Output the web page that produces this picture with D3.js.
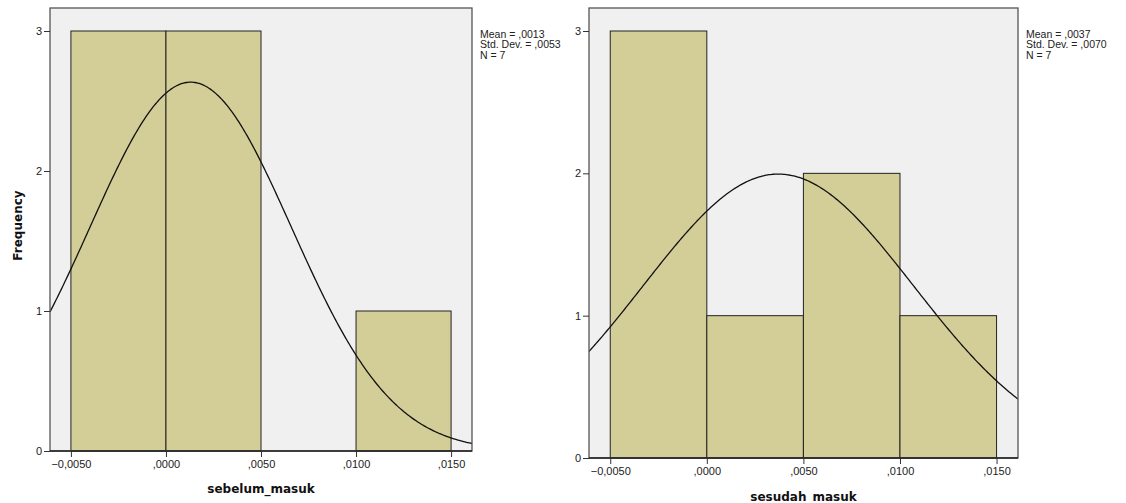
<!DOCTYPE html>
<html>
<head>
<meta charset="utf-8">
<script src="https://cdn.jsdelivr.net/npm/d3@7/dist/d3.min.js"></script>
<style>
  html, body { margin: 0; padding: 0; background: #fff; }
  svg { display: block; }
</style>
</head>
<body>
<svg id="chart" width="1126" height="503"></svg>
<script>
// Histogram bins (lower edges), bin width and counts for each variable
const binEdges = [-0.005, 0.0, 0.005, 0.01];
const binWidth = 0.005;
const countsSebelum = [3, 3, 0, 1];
const countsSesudah = [3, 1, 2, 1];
const xTicks = [-0.005, 0.0, 0.005, 0.01, 0.015];
const yTicksSebelum = [0, 1, 2, 3];
const yTicksSesudah = [0, 1, 2, 3];
// Summary statistics shown beside each panel
const statsSebelum = { mean: 0.0013, sd: 0.0053, n: 7 };
const statsSesudah = { mean: 0.0037, sd: 0.0070, n: 7 };

const svg = d3.select("#chart");
const fmtTick = v => {
  const s = d3.format(".4f")(v).replace(".", ",");
  return s.replace(/^(-?)0,/, "$1,");
};

function panel(opts) {
  const { left, right, top, bottom, xDomain, yMax, counts, stats, yTicks, title, showYTitle, titleY } = opts;
  const x = d3.scaleLinear().domain(xDomain).range([left, right]);
  const y = d3.scaleLinear().domain([0, yMax]).range([bottom, top]);
  const g = svg.append("g");
  const clipId = "clip" + Math.round(left);
  svg.append("clipPath").attr("id", clipId)
    .append("rect").attr("x", left).attr("y", opts.frameTop).attr("width", right - left).attr("height", bottom - opts.frameTop);

  // plot background
  g.append("rect").attr("x", left).attr("y", opts.frameTop)
    .attr("width", right - left).attr("height", bottom - opts.frameTop)
    .attr("fill", "#f0f0f0");

  // bars
  g.selectAll("rect.bar").data(counts.map((c, i) => ({ x0: binEdges[i], c })).filter(d => d.c > 0))
    .join("rect").attr("class", "bar")
    .attr("x", d => x(d.x0)).attr("y", d => y(d.c))
    .attr("width", d => x(d.x0 + binWidth) - x(d.x0))
    .attr("height", d => y(0) - y(d.c))
    .attr("fill", "#d3ce97").attr("stroke", "#222").attr("stroke-width", 1);

  // fitted normal curve from the stated mean, sd and N
  const pdf = v => stats.n * binWidth / (stats.sd * Math.sqrt(2 * Math.PI)) *
    Math.exp(-0.5 * Math.pow((v - stats.mean) / stats.sd, 2));
  const xs = d3.range(0, 301).map(i => xDomain[0] + (xDomain[1] - xDomain[0]) * i / 300);
  g.append("path").attr("clip-path", `url(#${clipId})`)
    .attr("d", d3.line().x(v => x(v)).y(v => y(pdf(v)))(xs))
    .attr("fill", "none").attr("stroke", "#111").attr("stroke-width", 1.3);

  // frame
  g.append("rect").attr("x", left).attr("y", opts.frameTop)
    .attr("width", right - left).attr("height", bottom - opts.frameTop)
    .attr("fill", "none").attr("stroke", "#555").attr("stroke-width", 1.3);
  g.append("line").attr("x1", left).attr("x2", right).attr("y1", bottom).attr("y2", bottom)
    .attr("stroke", "#222").attr("stroke-width", 1.3);

  // y axis
  const ya = g.append("g").attr("transform", `translate(${left},0)`)
    .call(d3.axisLeft(y).tickValues(yTicks).tickFormat(d3.format("d")).tickSize(6).tickPadding(2));
  ya.select(".domain").remove();
  ya.selectAll("line").attr("stroke", "#333");
  ya.selectAll("text").attr("font-family", "Liberation Sans, Arial, sans-serif").attr("font-size", 11).attr("fill", "#222");

  // x axis
  const xa = g.append("g").attr("transform", `translate(0,${bottom})`)
    .call(d3.axisBottom(x).tickValues(xTicks).tickFormat(fmtTick).tickSize(6).tickPadding(3));
  xa.select(".domain").remove();
  xa.selectAll("line").attr("stroke", "#333");
  xa.selectAll("text").attr("font-family", "Liberation Sans, Arial, sans-serif").attr("font-size", 11).attr("fill", "#222");

  // axis title
  g.append("text").attr("x", (left + right) / 2).attr("y", titleY)
    .attr("text-anchor", "middle").attr("font-family", "DejaVu Sans, sans-serif")
    .attr("font-weight", "bold").attr("font-size", 12).attr("fill", "#111").text(title);
  if (showYTitle) {
    g.append("text").attr("transform", `translate(22,${(opts.frameTop + bottom) / 2 - 4}) rotate(-90)`)
      .attr("text-anchor", "middle").attr("font-family", "DejaVu Sans, sans-serif")
      .attr("font-weight", "bold").attr("font-size", 12).attr("fill", "#111").text("Frequency");
  }

  // statistics note, one text element per line
  const lines = [
    "Mean = " + fmtTick(stats.mean),
    "Std. Dev. = " + fmtTick(stats.sd),
    "N = " + stats.n
  ];
  g.selectAll("text.note").data(lines).join("text").attr("class", "note")
    .attr("x", right + 8).attr("y", (d, i) => 37.5 + i * 10.5)
    .attr("font-family", "Liberation Sans, Arial, sans-serif")
    .attr("font-size", 10.5).attr("fill", "#222").text(d => d);
}

panel({
  left: 50, right: 472, frameTop: 8, top: 31, bottom: 451,
  xDomain: [-0.0061, 0.0161], yMax: 3, counts: countsSebelum, stats: statsSebelum,
  yTicks: yTicksSebelum, title: "sebelum_masuk", showYTitle: true, titleY: 493
});
panel({
  left: 589, right: 1018, frameTop: 8, top: 31, bottom: 458,
  xDomain: [-0.0061, 0.01611], yMax: 3, counts: countsSesudah, stats: statsSesudah,
  yTicks: yTicksSesudah, title: "sesudah_masuk", showYTitle: false, titleY: 501
});
</script>
</body>
</html>
